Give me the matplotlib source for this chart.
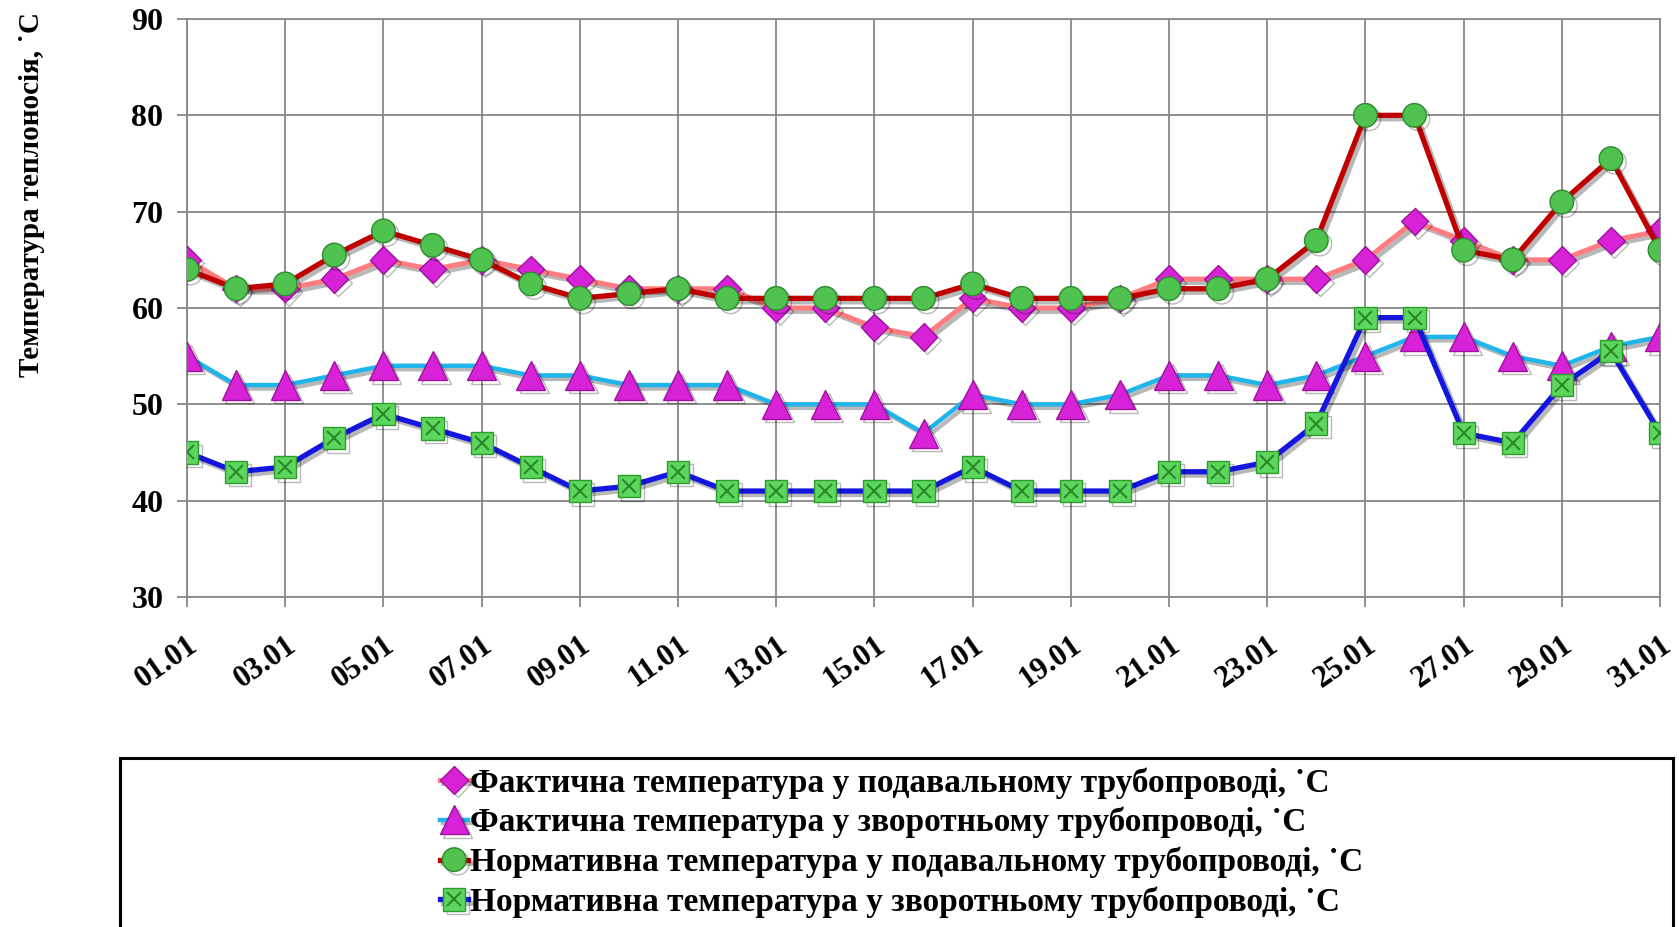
import matplotlib
matplotlib.use("Agg")
import matplotlib.pyplot as plt
import matplotlib.patheffects as pe
import matplotlib.transforms as mtransforms
from matplotlib.patches import Rectangle
from matplotlib.legend_handler import HandlerTuple

# Data: heating water temperatures, January (days 1..31)
days = list(range(1, 32))
day_labels = [f"{d:02d}.01" for d in days]

fact_supply = [65, 62, 62, 63, 65, 64, 65, 64, 63, 62, 62, 62, 60, 60, 58, 57,
               61, 60, 60, 61, 63, 63, 63, 63, 65, 69, 67, 65, 65, 67, 68]
fact_return = [55, 52, 52, 53, 54, 54, 54, 53, 53, 52, 52, 52, 50, 50, 50, 47,
               51, 50, 50, 51, 53, 53, 52, 53, 55, 57, 57, 55, 54, 56, 57]
norm_supply = [64, 62, 62.5, 65.5, 68, 66.5, 65, 62.5, 61, 61.5, 62, 61, 61, 61, 61, 61,
               62.5, 61, 61, 61, 62, 62, 63, 67, 80, 80, 66, 65, 71, 75.5, 66]
norm_return = [45, 43, 43.5, 46.5, 49, 47.5, 46, 43.5, 41, 41.5, 43, 41, 41, 41, 41, 41,
               43.5, 41, 41, 41, 43, 43, 44, 48, 59, 59, 47, 46, 52, 55.5, 47]

series_names = [
    "Фактична температура у подавальному трубопроводі, \u02d9С",
    "Фактична температура у зворотньому трубопроводі, \u02d9С",
    "Нормативна температура у подавальному трубопроводі, \u02d9С",
    "Нормативна температура у зворотньому трубопроводі, \u02d9С",
]

plt.rcParams['font.family'] = ['Liberation Serif', 'DejaVu Serif']
plt.rcParams['font.weight'] = 'bold'

fig = plt.figure(figsize=(16.79, 9.27), dpi=100)
ax = fig.add_axes([0.1114, 0.356, 0.8773, 0.6235])

shadow = [pe.SimpleLineShadow(offset=(2.5, -2.5), alpha=0.28, shadow_color='black'), pe.Normal()]

h1, = ax.plot(days, fact_supply, color='#FF7C80', lw=3.6, marker='D', ms=14,
              mfc='#D822D8', mec='#A010A0', mew=1, path_effects=shadow, zorder=3)
h2, = ax.plot(days, fact_return, color='#1FB4EA', lw=3.2, marker='^', ms=21,
              mfc='#D822D8', mec='#A010A0', mew=1, path_effects=shadow, zorder=4)
h3, = ax.plot(days, norm_supply, color='#C00000', lw=3.8, marker='o', ms=17,
              mfc='#4FC24F', mec='#2E8B2E', mew=1, path_effects=shadow, zorder=5)
h4, = ax.plot(days, norm_return, color='#1515E0', lw=3.8, marker='s', ms=16,
              mfc='#5CD65C', mec='#2E9B2E', mew=1, path_effects=shadow, zorder=6)
h4x, = ax.plot(days, norm_return, ls='none', marker='x', ms=10, mec='#2A8A2A',
               mew=1.5, zorder=7)

ax.set_xlim(1, 31)
ax.set_ylim(30, 90)
ax.set_yticks([30, 40, 50, 60, 70, 80, 90])
ax.set_xticks(days[::2])
ax.set_xticklabels(day_labels[::2], rotation=35, ha='right', va='top',
                   rotation_mode='anchor')
shift = mtransforms.ScaledTranslation(-2 / 100, 0, fig.dpi_scale_trans)
for lbl in ax.get_xticklabels():
    lbl.set_transform(lbl.get_transform() + shift)

ax.grid(True, color='#878787', lw=1.3)
ax.set_axisbelow(True)
for s in ax.spines.values():
    s.set_color('#878787')
    s.set_linewidth(1.3)
ax.tick_params(axis='both', color='#878787', width=1.3, length=7, direction='out')
ax.tick_params(axis='y', labelsize=23, pad=10)
ax.tick_params(axis='x', labelsize=22, pad=17)

fig.text(0.019, 0.79, "Температура теплоносія, \u02d9С", rotation=90, ha='center',
         va='center', fontsize=21, fontweight='bold')

# legend box at the bottom
fig.patches.append(Rectangle((120 / 1679, -0.01), (1673 - 120) / 1679, 1 - 758 / 927 + 0.01,
                             transform=fig.transFigure, fill=False, ec='black', lw=2.2))
fig.legend([h1, h2, h3, (h4, h4x)], series_names, loc='center',
           bbox_to_anchor=(0.537, 0.091), frameon=False, fontsize=24,
           handlelength=0.85, handletextpad=0.05, labelspacing=0.25,
           handler_map={tuple: HandlerTuple(ndivide=1)})

fig.savefig("out.png", dpi=100)
